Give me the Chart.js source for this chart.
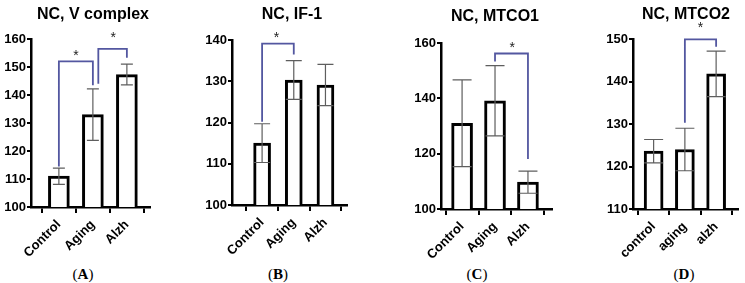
<!DOCTYPE html>
<html>
<head>
<meta charset="utf-8">
<script src="https://cdn.jsdelivr.net/npm/chart.js@4/dist/chart.umd.min.js"></script>
<style>
  body { margin: 0; background: #fff; }
  #wrap { position: relative; width: 745px; height: 283px; overflow: hidden; }
  canvas { position: absolute; top: 0; }
  .title { position: absolute; transform: translate(-50%, -50%); font: bold 16px "Liberation Sans", Arial, sans-serif; color: #000; white-space: nowrap; }
  .tag { position: absolute; transform: translate(-50%, -50%); font: 15px "Liberation Serif", "Times New Roman", serif; color: #000; }
  .tag b { font-weight: bold; }
</style>
</head>
<body>
<div id="wrap">
  <canvas id="cA" width="175" height="262" style="left:0px"></canvas>
  <canvas id="cB" width="175" height="262" style="left:185px"></canvas>
  <canvas id="cC" width="185" height="262" style="left:370px"></canvas>
  <canvas id="cD" width="190" height="262" style="left:555px"></canvas>
  <div class="title" style="left:93px; top:14px">NC, V complex</div>
  <div class="title" style="left:292px; top:14px">NC, IF-1</div>
  <div class="title" style="left:495px; top:16px">NC, MTCO1</div>
  <div class="title" style="left:686px; top:14px">NC, MTCO2</div>
  <div class="tag" style="left:83px; top:274px">(<b>A</b>)</div>
  <div class="tag" style="left:278px; top:274px">(<b>B</b>)</div>
  <div class="tag" style="left:477px; top:274px">(<b>C</b>)</div>
  <div class="tag" style="left:684px; top:274px">(<b>D</b>)</div>
</div>
<script>
// panel A: NC, V complex
const catsA = ['Control', 'Aging', 'Alzh'];
const meanA = [111, 133, 147.3];
const semA = [2.9, 9.2, 3.7];
const bracketsA = [[0, 114.5, 1, 143.5, 152], [1.16, 144, 2, 153.3, 156.5]];
const starsA = [[0.5, 154.8], [1.6, 161.5]];

// panel B: NC, IF-1
const catsB = ['Control', 'Aging', 'Alzh'];
const meanB = [115, 130.3, 129.1];
const semB = [4.7, 4.7, 5.0];
const bracketsB = [[0, 120.2, 1, 136.5, 139.1]];
const starsB = [[0.45, 141.2]];

// panel C: NC, MTCO1
const catsC = ['Control', 'Aging', 'Alzh'];
const meanC = [131, 139.1, 109.7];
const semC = [15.7, 12.7, 4.0];
const bracketsC = [[1, 153.3, 2, 118.1, 156.2]];
const starsC = [[1.52, 159.2]];

// panel D: NC, MTCO2
const catsD = ['control', 'aging', 'alzh'];
const meanD = [123.6, 124.0, 141.8];
const semD = [2.75, 5.0, 5.35];
const bracketsD = [[1, 130.3, 2, 148.2, 149.9]];
const starsD = [[1.5, 153.2]];

const FONT = '"Liberation Sans", Arial, sans-serif';

const sigPlugin = {
    id: 'sig',
    afterDatasetsDraw(chart, args, o) {
        const {ctx} = chart;
        const x = chart.scales.x, y = chart.scales.y;
        ctx.save();
        // error bars
        ctx.strokeStyle = '#5e5e5e';
        ctx.lineWidth = 1.2;
        o.means.forEach((m, i) => {
            const px = x.getPixelForValue(i);
            const hi = y.getPixelForValue(m + o.sem[i]);
            const lo = y.getPixelForValue(m - o.sem[i]);
            const c = o.cap / 2;
            ctx.beginPath();
            ctx.moveTo(px, hi); ctx.lineTo(px, lo);
            ctx.moveTo(px - c, hi); ctx.lineTo(px + c, hi);
            ctx.moveTo(px - c, lo); ctx.lineTo(px + c, lo);
            ctx.stroke();
        });
        // significance brackets
        ctx.strokeStyle = '#5357a0';
        ctx.lineWidth = 1.8;
        o.brackets.forEach(b => {
            const x0 = x.getPixelForValue(b[0]), x1 = x.getPixelForValue(b[2]);
            const top = y.getPixelForValue(b[4]);
            ctx.beginPath();
            ctx.moveTo(x0, y.getPixelForValue(b[1]));
            ctx.lineTo(x0, top);
            ctx.lineTo(x1, top);
            ctx.lineTo(x1, y.getPixelForValue(b[3]));
            ctx.stroke();
        });
        ctx.fillStyle = '#222';
        ctx.font = '14px ' + FONT;
        ctx.textAlign = 'center';
        ctx.textBaseline = 'middle';
        o.stars.forEach(s => {
            ctx.fillText('*', x.getPixelForValue(s[0]), y.getPixelForValue(s[1]) + 3);
        });
        ctx.restore();
    }
};

function panel(id, cats, means, sem, brackets, stars, cfg) {
    const ctx = document.getElementById(id).getContext('2d');
    const canvasH = ctx.canvas.height;
    return new Chart(ctx, {
        type: 'bar',
        data: {
            datasets: [{
                data: means.map((v, i) => ({x: i, y: v})),
                backgroundColor: '#fff',
                borderColor: '#000',
                borderWidth: 3,
                borderSkipped: false,
                barThickness: cfg.bar
            }]
        },
        options: {
            responsive: false,
            animation: false,
            layout: {
                autoPadding: false,
                padding: {left: 0, top: cfg.top, right: cfg.right, bottom: 0}
            },
            scales: {
                x: {
                    type: 'linear',
                    min: cfg.xmin,
                    max: cfg.xmax,
                    offset: false,
                    afterBuildTicks: s => { s.ticks = cats.map((c, i) => ({value: i})); },
                    afterFit: s => { s.height = canvasH - cfg.bottom; },
                    grid: {display: true, drawOnChartArea: false, drawTicks: true, tickLength: 6, color: '#000', lineWidth: 2},
                    border: {display: true, color: '#000', width: 2.5},
                    ticks: {
                        autoSkip: false,
                        maxRotation: 45,
                        minRotation: 45,
                        padding: 4,
                        color: '#000',
                        font: {family: FONT, size: 13, weight: 'bold'},
                        callback: v => cats[v]
                    }
                },
                y: {
                    min: cfg.ymin,
                    max: cfg.ymax,
                    afterFit: s => { s.width = cfg.axisX; },
                    grid: {display: true, drawOnChartArea: false, drawTicks: true, tickLength: 4, color: '#000', lineWidth: 2},
                    border: {display: true, color: '#000', width: 2.5},
                    ticks: {
                        stepSize: cfg.step,
                        padding: 1,
                        color: '#000',
                        font: {family: FONT, size: 13, weight: 'bold'}
                    }
                }
            },
            plugins: {
                legend: {display: false},
                tooltip: {enabled: false},
                sig: {means: means, sem: sem, brackets: brackets, stars: stars, cap: cfg.cap}
            }
        },
        plugins: [sigPlugin]
    });
}

panel('cA', catsA, meanA, semA, bracketsA, starsA,
    {axisX: 31, top: 39, bottom: 207, right: 25, xmin: -0.82, xmax: 2.68, ymin: 100, ymax: 160, step: 10, bar: 21, cap: 12});
panel('cB', catsB, meanB, semB, bracketsB, starsB,
    {axisX: 47, top: 40, bottom: 205, right: 13, xmin: -0.95, xmax: 2.68, ymin: 100, ymax: 140, step: 10, bar: 17, cap: 16});
panel('cC', catsC, meanC, semC, bracketsC, starsC,
    {axisX: 71, top: 43, bottom: 209, right: 3, xmin: -0.64, xmax: 2.73, ymin: 100, ymax: 160, step: 20, bar: 21, cap: 19});
panel('cD', catsD, meanD, semD, bracketsD, starsD,
    {axisX: 78, top: 39, bottom: 209, right: 7, xmin: -0.66, xmax: 2.70, ymin: 110, ymax: 150, step: 10, bar: 19, cap: 19});
</script>
</body>
</html>
